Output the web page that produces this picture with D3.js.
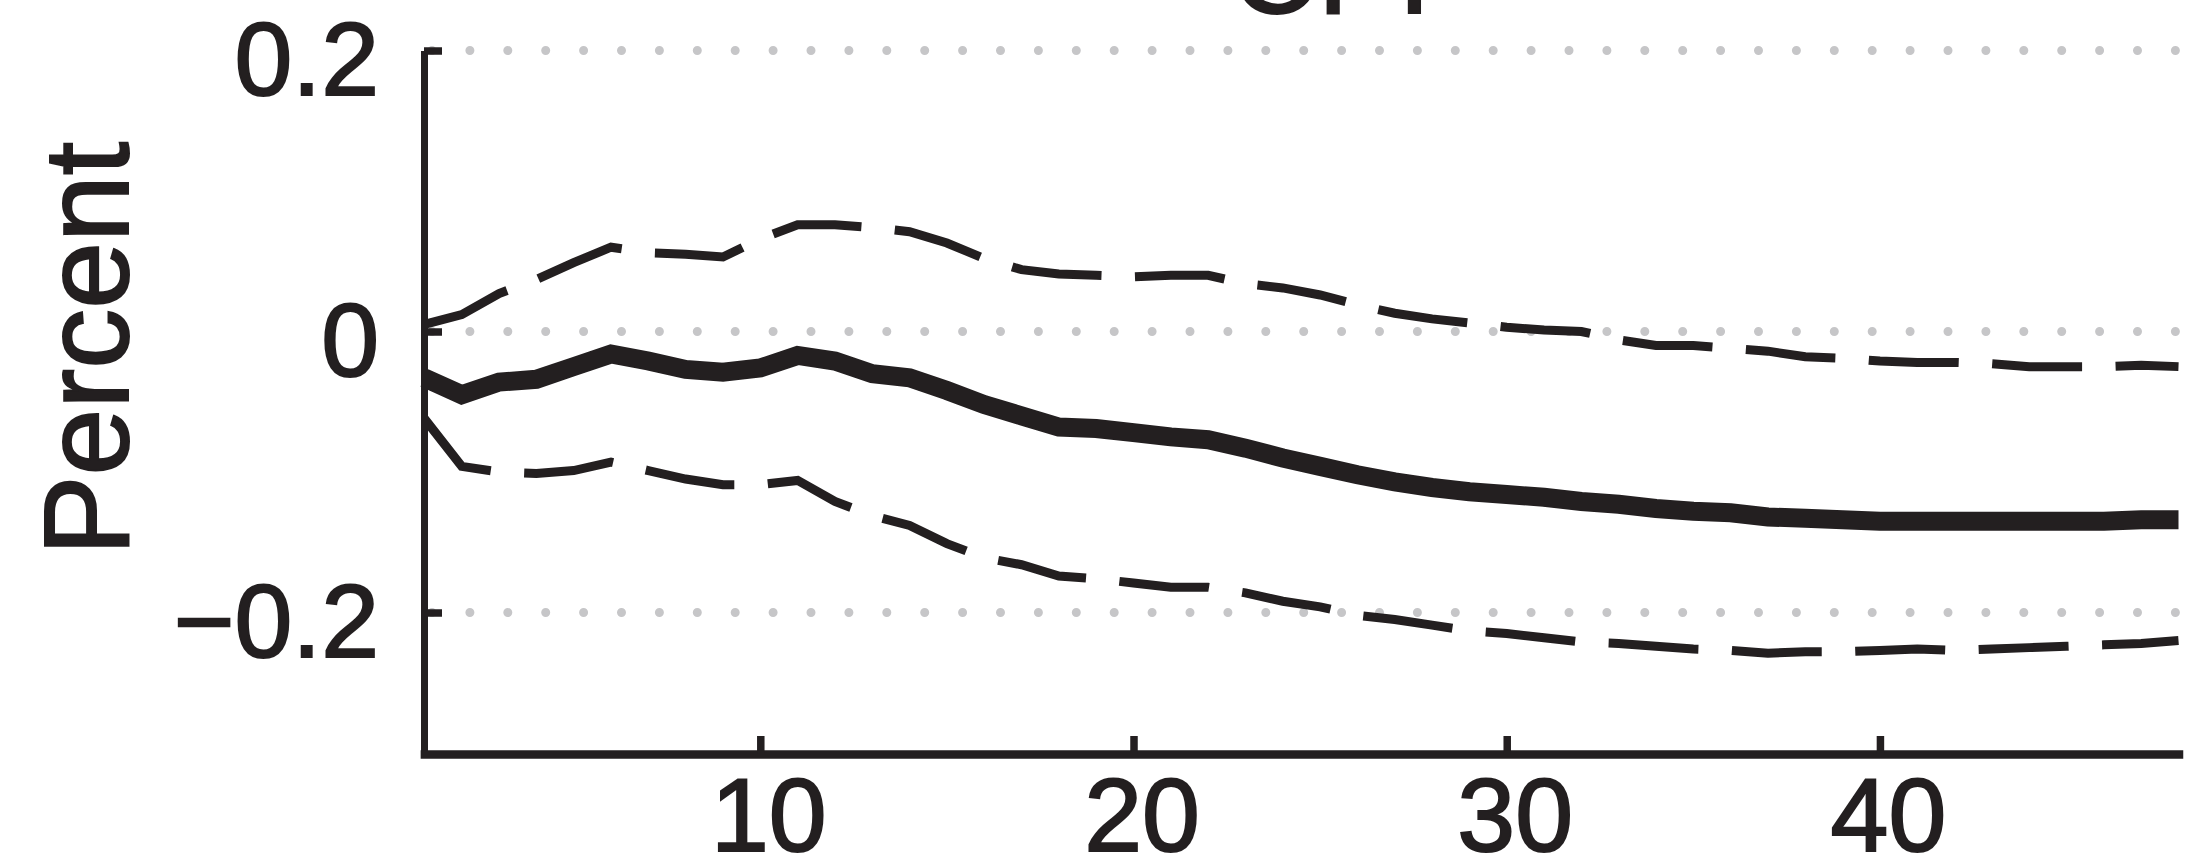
<!DOCTYPE html>
<html>
<head>
<meta charset="utf-8">
<script src="https://cdn.jsdelivr.net/npm/d3@7"></script>
<style>
  html, body { margin: 0; padding: 0; background: #ffffff; }
  svg { display: block; }
  text { font-family: "Liberation Sans", Arial, Helvetica, sans-serif; fill: #231f20; stroke: #231f20; stroke-width: 2; }
</style>
</head>
<body>
<svg id="chart" width="2201" height="856"></svg>
<script>
// ---- data ----
const horizons = d3.range(1, 49); // 1..48
const median = [-0.033,-0.045,-0.036,-0.034,-0.025,-0.016,-0.021,-0.027,-0.029,-0.026,
                -0.017,-0.021,-0.030,-0.033,-0.042,-0.052,-0.060,-0.068,-0.069,-0.072,
                -0.075,-0.077,-0.083,-0.090,-0.096,-0.102,-0.107,-0.111,-0.114,-0.116,
                -0.118,-0.121,-0.123,-0.126,-0.128,-0.129,-0.132,-0.133,-0.134,-0.135,
                -0.135,-0.135,-0.135,-0.135,-0.135,-0.135,-0.134,-0.134];
const upper = [0.005,0.012,0.027,0.037,0.049,0.060,0.056,0.055,0.053,0.066,
               0.076,0.076,0.074,0.071,0.063,0.052,0.044,0.041,0.040,0.039,
               0.040,0.040,0.034,0.031,0.026,0.019,0.013,0.009,0.006,0.003,
               0.001,0.000,-0.006,-0.010,-0.010,-0.012,-0.014,-0.018,-0.019,-0.021,
               -0.022,-0.022,-0.023,-0.025,-0.025,-0.025,-0.024,-0.025];
const lower = [-0.062,-0.096,-0.100,-0.101,-0.099,-0.093,-0.099,-0.105,-0.109,-0.109,
               -0.106,-0.121,-0.131,-0.138,-0.151,-0.161,-0.166,-0.174,-0.176,-0.179,
               -0.182,-0.182,-0.186,-0.192,-0.196,-0.202,-0.205,-0.209,-0.213,-0.215,
               -0.218,-0.221,-0.222,-0.224,-0.226,-0.227,-0.229,-0.228,-0.228,-0.227,
               -0.226,-0.227,-0.226,-0.225,-0.224,-0.223,-0.222,-0.220];
const xTickValues = [10, 20, 30, 40];
const xTickLabels = ["10", "20", "30", "40"];
const yTickValues = [-0.2, 0, 0.2];
const yTickLabels = ["\u22120.2", "0", "0.2"];
const titleText = "CPI";
const yLabelText = "Percent";

// ---- layout ----
const ink = "#231f20";
const gridColor = "#c6c6c8";
const svg = d3.select("#chart");

const x = d3.scaleLinear().domain([1, 48]).range([424.4, 2178.5]);
const y = d3.scaleLinear().domain([-0.3, 0.2]).range([753, 50.5]);

// gridlines (dotted)
svg.append("g").selectAll("line")
  .data(yTickValues)
  .join("line")
  .attr("x1", 432).attr("x2", x(48) + 2)
  .attr("y1", d => y(d)).attr("y2", d => y(d))
  .attr("stroke", gridColor)
  .attr("stroke-width", 9)
  .attr("stroke-linecap", "round")
  .attr("stroke-dasharray", "0 37.9");

// lines
const line = d3.line().x((d, i) => x(horizons[i])).y(d => y(d));

svg.append("path").datum(upper)
  .attr("d", line).attr("fill", "none")
  .attr("stroke", ink).attr("stroke-width", 9)
  .attr("stroke-dasharray", "90 33.5")
  .attr("stroke-linejoin", "miter");

svg.append("path").datum(lower)
  .attr("d", line).attr("fill", "none")
  .attr("stroke", ink).attr("stroke-width", 9)
  .attr("stroke-dasharray", "90 33.5")
  .attr("stroke-linejoin", "miter");

svg.append("path").datum(median)
  .attr("d", line).attr("fill", "none")
  .attr("stroke", ink).attr("stroke-width", 19)
  .attr("stroke-linejoin", "miter");

// y axis
const yAxis = d3.axisLeft(y)
  .tickValues(yTickValues)
  .tickFormat((d, i) => yTickLabels[i])
  .tickSize(-18)
  .tickSizeOuter(0)
  .tickPadding(45);
const gy = svg.append("g").attr("transform", "translate(424,0)").call(yAxis);
gy.select(".domain").attr("stroke", ink).attr("stroke-width", 7);
gy.selectAll(".tick line").attr("stroke", ink).attr("stroke-width", 7.5);
gy.selectAll(".tick text")
  .attr("font-size", 104)
  .attr("dy", "0.42em")
  .attr("fill", ink)
  .style("font-family", "'Liberation Sans', Arial, sans-serif");

// x axis
const xAxis = d3.axisBottom(x)
  .tickValues(xTickValues)
  .tickFormat((d, i) => xTickLabels[i])
  .tickSize(-18)
  .tickSizeOuter(0)
  .tickPadding(23);
const gx = svg.append("g").attr("transform", "translate(0,754)").call(xAxis);
gx.select(".domain").attr("stroke", ink).attr("stroke-width", 8.5).attr("stroke-linecap", "square");
gx.selectAll(".tick line").attr("stroke", ink).attr("stroke-width", 7.5);
gx.selectAll(".tick text")
  .attr("font-size", 104)
  .attr("dx", 8)
  .attr("fill", ink)
  .style("font-family", "'Liberation Sans', Arial, sans-serif");

// y label
svg.append("text")
  .attr("transform", "translate(128,348.7) rotate(-90)")
  .attr("text-anchor", "middle")
  .attr("font-size", 120)
  .text(yLabelText);

// title (cut off at top in the original)
svg.append("text")
  .attr("x", 1231)
  .attr("y", 12.7)
  .attr("text-anchor", "start")
  .attr("font-size", 120)
  .text(titleText);
</script>
</body>
</html>
